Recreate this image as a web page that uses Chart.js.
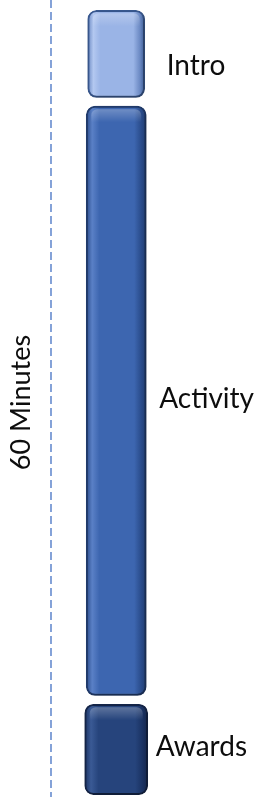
<!DOCTYPE html>
<html>
<head>
<meta charset="utf-8">
<script src="https://cdn.jsdelivr.net/npm/chart.js@4/dist/chart.umd.min.js"></script>
<style>
  html, body { margin: 0; padding: 0; background: #ffffff; }
  #wrap { width: 270px; height: 804px; position: relative; }
</style>
</head>
<body>
<div id="wrap"><canvas id="c" width="270" height="804"></canvas></div>
<script>
// ---- data ----
const categories = ['Intro', 'Activity', 'Awards'];
const minutes = [7.25, 45.25, 7.5];
const axisTitle = '60 Minutes';
const totalMinutes = 60;

// ---- style ----
const GAP = 0.33; // half-gap between segments, in minutes
const fills = [
  { base: '#9ab4e6', dark: '#6a88c2', light: '#b3c8f0', border: '#3a5a92' },
  { base: '#3d66b0', dark: '#294b8a', light: '#5a80c6', border: '#213c6e' },
  { base: '#26447c', dark: '#1a3262', light: '#3a5a95', border: '#15264a' }
];
const thickness = [57, 60, 63];
const labelGap = [22, 13, 8];
const labelShift = [12, -2, -2];
const FONT = 'Lato, "Open Sans", sans-serif';

// floating ranges from durations
let acc = 0;
const ranges = minutes.map(m => { const r = [acc + GAP, acc + m - GAP]; acc += m; return r; });

function gradientFor(i) {
  return function (ctx) {
    const chart = ctx.chart;
    const xs = chart.scales.x;
    if (!xs || !chart.chartArea) return fills[i].base;
    const cx = xs.getPixelForValue(0);
    const hw = thickness[i] / 2;
    const g = chart.ctx.createLinearGradient(cx - hw, 0, cx + hw, 0);
    g.addColorStop(0, fills[i].dark);
    g.addColorStop(0.1, fills[i].light);
    g.addColorStop(0.22, fills[i].base);
    g.addColorStop(0.8, fills[i].base);
    g.addColorStop(0.92, fills[i].dark);
    g.addColorStop(1, fills[i].border);
    return g;
  };
}

const datasets = categories.map((name, i) => ({
  label: name,
  data: [ranges[i]],
  backgroundColor: gradientFor(i),
  borderColor: fills[i].border,
  borderWidth: 2,
  borderRadius: 9,
  borderSkipped: false,
  barThickness: thickness[i],
  clip: false,
  labelGap: labelGap[i],
  labelShift: labelShift[i]
}));

const shadowPlugin = {
  id: 'shadow',
  beforeDatasetDraw(chart) {
    const c = chart.ctx;
    c.save();
    c.shadowColor = 'rgba(0,0,0,0.35)';
    c.shadowBlur = 6;
    c.shadowOffsetX = 3;
    c.shadowOffsetY = 3;
  },
  afterDatasetDraw(chart) {
    chart.ctx.restore();
  }
};

const decorPlugin = {
  id: 'decor',
  beforeDatasetsDraw(chart) {
    const c = chart.ctx;
    const x = Math.round(chart.chartArea.left);
    c.save();
    c.strokeStyle = '#4472c4';
    c.lineWidth = 1.3;
    c.setLineDash([8, 4]);
    c.beginPath();
    c.moveTo(x, 0);
    c.lineTo(x, chart.chartArea.bottom - 2);
    c.stroke();
    c.restore();
  },
  afterDatasetsDraw(chart) {
    const c = chart.ctx;
    c.save();
    // top sheen on each bar
    chart.data.datasets.forEach((ds, i) => {
      const el = chart.getDatasetMeta(i).data[0];
      if (!el) return;
      const p = el.getProps(['x', 'y', 'base', 'width'], true);
      const top = Math.min(p.y, p.base);
      const g = c.createLinearGradient(0, top + 2, 0, top + 16);
      g.addColorStop(0, 'rgba(255,255,255,0.28)');
      g.addColorStop(1, 'rgba(255,255,255,0)');
      c.fillStyle = g;
      c.beginPath();
      c.roundRect(p.x - p.width / 2 + 5, top + 3, p.width - 10, 14, [6, 6, 0, 0]);
      c.fill();
    });
    // labels
    c.fillStyle = '#0d0d0d';
    c.font = '28px ' + FONT;
    c.textAlign = 'left';
    c.textBaseline = 'middle';
    chart.data.datasets.forEach((ds, i) => {
      const el = chart.getDatasetMeta(i).data[0];
      if (!el) return;
      const p = el.getProps(['x', 'y', 'base', 'width'], true);
      const cy = (p.y + p.base) / 2;
      c.fillText(ds.label, p.x + p.width / 2 + ds.labelGap, cy + ds.labelShift);
    });
    c.restore();
  }
};

new Chart(document.getElementById('c'), {
  type: 'bar',
  data: { labels: ['Session'], datasets },
  options: {
    responsive: false,
    animation: false,
    devicePixelRatio: 1,
    layout: { padding: { left: 0, right: 89, top: 6, bottom: 5 } },
    datasets: { bar: { grouped: false } },
    plugins: { legend: { display: false }, tooltip: { enabled: false } },
    scales: {
      x: { display: false },
      y: {
        min: 0,
        max: totalMinutes,
        reverse: true,
        grid: { display: false, drawTicks: false },
        border: { display: false },
        ticks: { display: false },
        title: {
          display: true,
          text: axisTitle,
          color: '#0d0d0d',
          font: { family: FONT, size: 27, lineHeight: 1.2 },
          padding: { top: 5, bottom: 14 }
        }
      }
    }
  },
  plugins: [shadowPlugin, decorPlugin]
});
</script>
</body>
</html>
